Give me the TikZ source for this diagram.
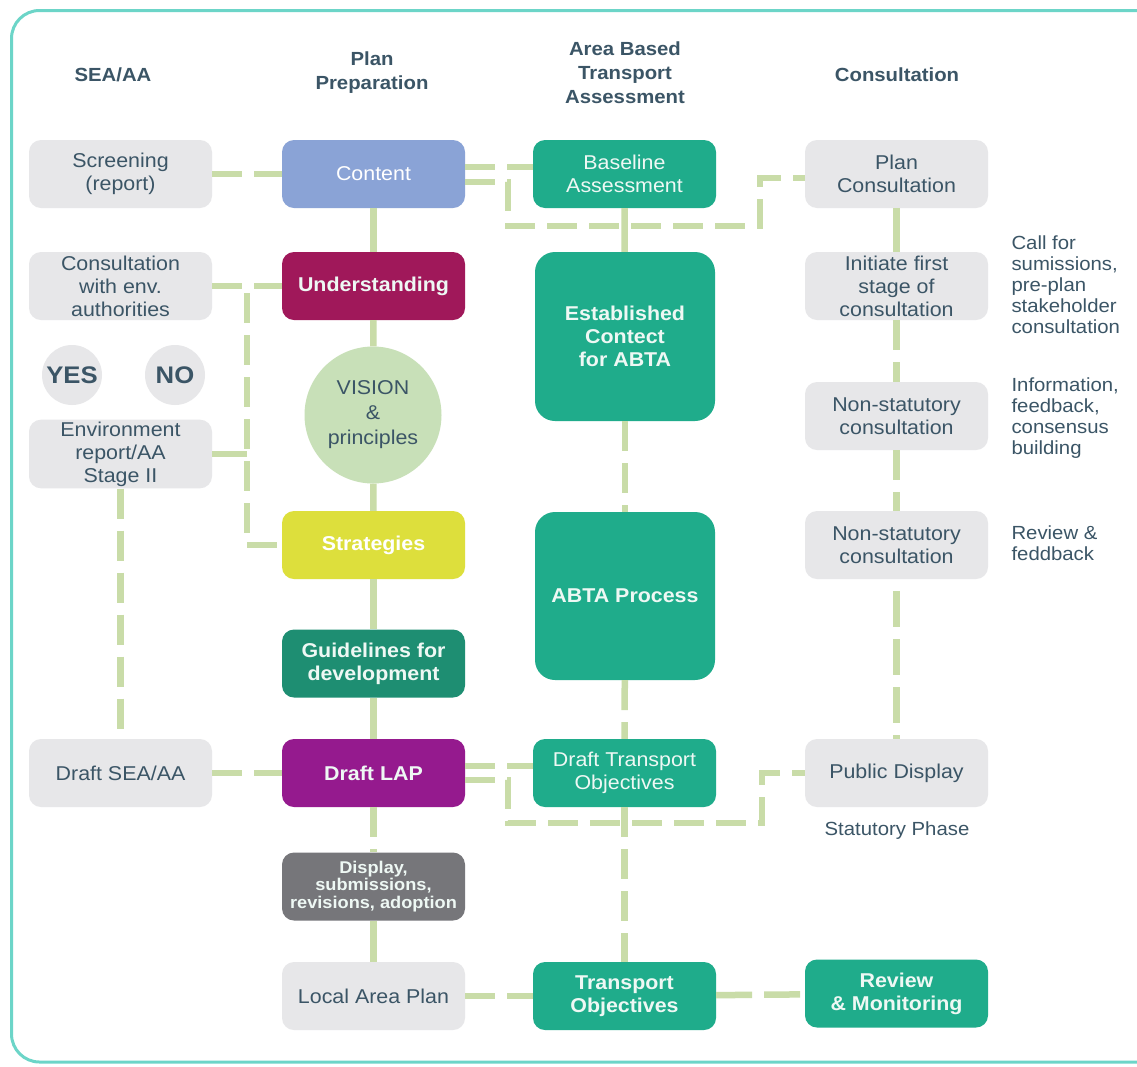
\documentclass[tikz,border=0pt]{standalone}
\usepackage{fontspec}
\setmainfont[FakeStretch=1.07]{Liberation Sans}
\usetikzlibrary{calc}
\definecolor{gboxc}{HTML}{E7E7E9}
\definecolor{txtc}{HTML}{3B5566}
\definecolor{bluec}{HTML}{8AA3D6}
\definecolor{tealc}{HTML}{1FAC8B}
\definecolor{crimc}{HTML}{A0185A}
\definecolor{yelc}{HTML}{DDDF3C}
\definecolor{guidc}{HTML}{1E8E72}
\definecolor{purpc}{HTML}{951A8E}
\definecolor{dgrayc}{HTML}{76767A}
\definecolor{visc}{HTML}{C8E0B8}
\definecolor{linec}{HTML}{C9DCA8}
\definecolor{bordc}{HTML}{6CD5C8}
\definecolor{ltxt}{HTML}{EEF8F4}
\tikzset{
  basebox/.style={rounded corners=12pt, minimum width=183pt, minimum height=68pt, align=center, inner sep=2pt,
    font=\fontsize{20}{23}\selectfont},
  gbox/.style={basebox, fill=gboxc, text=txtc},
  tbox/.style={basebox, fill=tealc, text=ltxt, font=\fontsize{20}{23}\selectfont\bfseries},
  tboxr/.style={basebox, fill=tealc, text=ltxt, font=\fontsize{20}{23}\selectfont},
  hdr/.style={align=center, text=txtc, font=\fontsize{19}{24}\selectfont\bfseries},
  side/.style={anchor=west, align=left, text=txtc, font=\fontsize{19}{21}\selectfont},
  sl/.style={draw=linec, line width=6.5pt},
  dl/.style={draw=linec, line width=6.5pt, dash pattern=on 30pt off 12pt},
  yn/.style={circle, fill=gboxc, minimum size=60pt, inner sep=0pt, text=txtc, font=\fontsize{24}{26}\selectfont\bfseries}
}
\begin{document}
\begin{tikzpicture}[x=1pt,y=-1pt]
\useasboundingbox (0,0) rectangle (1137,1066);
\clip (0,0) rectangle (1137,1066);
\fill[white] (0,0) rectangle (1137,1066);
\draw[draw=bordc, line width=3pt, rounded corners=28pt] (11.5,10.5) rectangle (1200,1062);

% headers
\node[hdr] (h1) at (113,75) {SEA/AA};
\node[hdr] (h2) at (372,73) {Plan\\Preparation};
\node[hdr] (h3) at (625,73) {Area Based\\Transport\\Assessment};
\node[hdr] (h4) at (897,75) {Consultation};

% column 1
\node[gbox] (screen) at (120.5,174) {Screening\\(report)};
\node[gbox] (consenv) at (120.5,286) {Consultation\\with env.\\authorities};
\node[yn] (yes) at (72,375) {YES};
\node[yn] (no) at (175,375) {NO};
\node[gbox] (envrep) at (120.5,454) {Environment\\report/AA\\Stage II};
\node[gbox] (draftsea) at (120.5,773) {Draft SEA/AA};

% column 2
\node[basebox, fill=bluec, text=white] (content) at (373.5,174) {Content};
\node[basebox, fill=crimc, text=ltxt, font=\fontsize{20}{23}\selectfont\bfseries] (underst) at (373.5,286) {Understanding};
\node[circle, fill=visc, minimum size=137pt, inner sep=0pt, align=center, text=txtc, font=\fontsize{20}{25}\selectfont] (vision) at (373,415) {VISION\\\&\\principles};
\node[basebox, fill=yelc, text=white, font=\fontsize{20}{23}\selectfont\bfseries] (strat) at (373.5,545) {Strategies};
\node[basebox, fill=guidc, text=ltxt, font=\fontsize{20}{23}\selectfont\bfseries] (guide) at (373.5,663.5) {Guidelines for\\development};
\node[basebox, fill=purpc, text=ltxt, font=\fontsize{20}{23}\selectfont\bfseries] (draftlap) at (373.5,773) {Draft LAP};
\node[basebox, fill=dgrayc, text=ltxt, font=\fontsize{17}{17.5}\selectfont\bfseries] (display) at (373.5,886.5) {Display,\\submissions,\\revisions, adoption};
\node[gbox] (lap) at (373.5,996) {Local Area Plan};

% column 3
\node[tboxr] (baseline) at (624.5,174) {Baseline\\Assessment};
\node[tbox, minimum width=180pt, minimum height=169pt, rounded corners=20pt] (estab) at (625,336.5) {Established\\Contect\\for ABTA};
\node[tbox, minimum width=180pt, minimum height=168pt, rounded corners=20pt] (abta) at (625,596) {ABTA Process};
\node[tboxr] (drafttr) at (624.5,773) {Draft Transport\\Objectives};
\node[tbox] (transobj) at (624.5,996) {Transport\\Objectives};

% column 4
\node[gbox] (plancons) at (896.5,174) {Plan\\Consultation};
\node[gbox] (initiate) at (896.5,286) {Initiate first\\stage of\\consultation};
\node[gbox] (nonstat1) at (896.5,416) {Non-statutory\\consultation};
\node[gbox] (nonstat2) at (896.5,545) {Non-statutory\\consultation};
\node[gbox] (pubdisp) at (896.5,773) {Public Display};
\node[tbox] (review) at (896.5,993.5) {Review\\\& Monitoring};
\node[text=txtc, font=\fontsize{19}{21}\selectfont] (statph) at (897,831) {Statutory Phase};

% side notes
\node[side] (n1) at (1008,285) {Call for\\sumissions,\\pre-plan\\stakeholder\\consultation};
\node[side] (n2) at (1008,418) {Information,\\feedback,\\consensus\\building};
\node[side] (n3) at (1008,543) {Review \&\\feddback};

% coordinates for bends
\coordinate (k1) at (508,226);
\coordinate (k2) at (760,226);
\coordinate (k3) at (508,823);
\coordinate (k4) at (762,823);
\coordinate (v1) at (247,545);

% connectors column 2 (vertical)
\draw[sl] (content) -- (underst);
\draw[sl] (underst) -- (vision);
\draw[sl] (vision) -- (strat);
\draw[sl] (strat) -- (guide);
\draw[sl] (guide) -- (draftlap);
\draw[dl] (draftlap) -- (display);
\draw[sl] (display) -- (lap);

% column 3
\draw[sl] (baseline) -- (estab);
\draw[dl] (estab) -- (abta);
\draw[dl] (abta) -- (drafttr);
\draw[dl] (drafttr) -- (transobj);

% column 4
\draw[sl] (plancons) -- (initiate);
\draw[dl] (initiate) -- (nonstat1);
\draw[dl] (nonstat1) -- (nonstat2);
\draw[dl, dash pattern=on 36pt off 12pt, dash phase=-12pt] (nonstat2) -- (pubdisp);

% horizontals
\draw[dl] (screen) -- (content);
\draw[dl] ([yshift=7pt]content.east) -- ([yshift=7pt]baseline.west);
\draw[dl] ([yshift=-8pt]content.east) -| (k1) -- (k2) |- ([yshift=-4pt]plancons.west);
\draw[dl] (draftsea) -- (draftlap);
\draw[dl] ([yshift=7pt]draftlap.east) -- ([yshift=7pt]drafttr.west);
\draw[dl] ([yshift=-7pt]draftlap.east) -| (k3) -- (k4) |- (pubdisp.west);
\draw[dl] (lap) -- (transobj);
\draw[dl, dash pattern=on 36pt off 12pt] (transobj) -- (review);

% SEA/AA connectors
\draw[dl] (consenv) -- (underst);
\draw[dl] (consenv.east) -| (v1) -- (strat.west);
\draw[sl] (envrep.east) -- (envrep.east -| v1);
\draw[dl] (envrep) -- (draftsea);
\end{tikzpicture}
\end{document}
